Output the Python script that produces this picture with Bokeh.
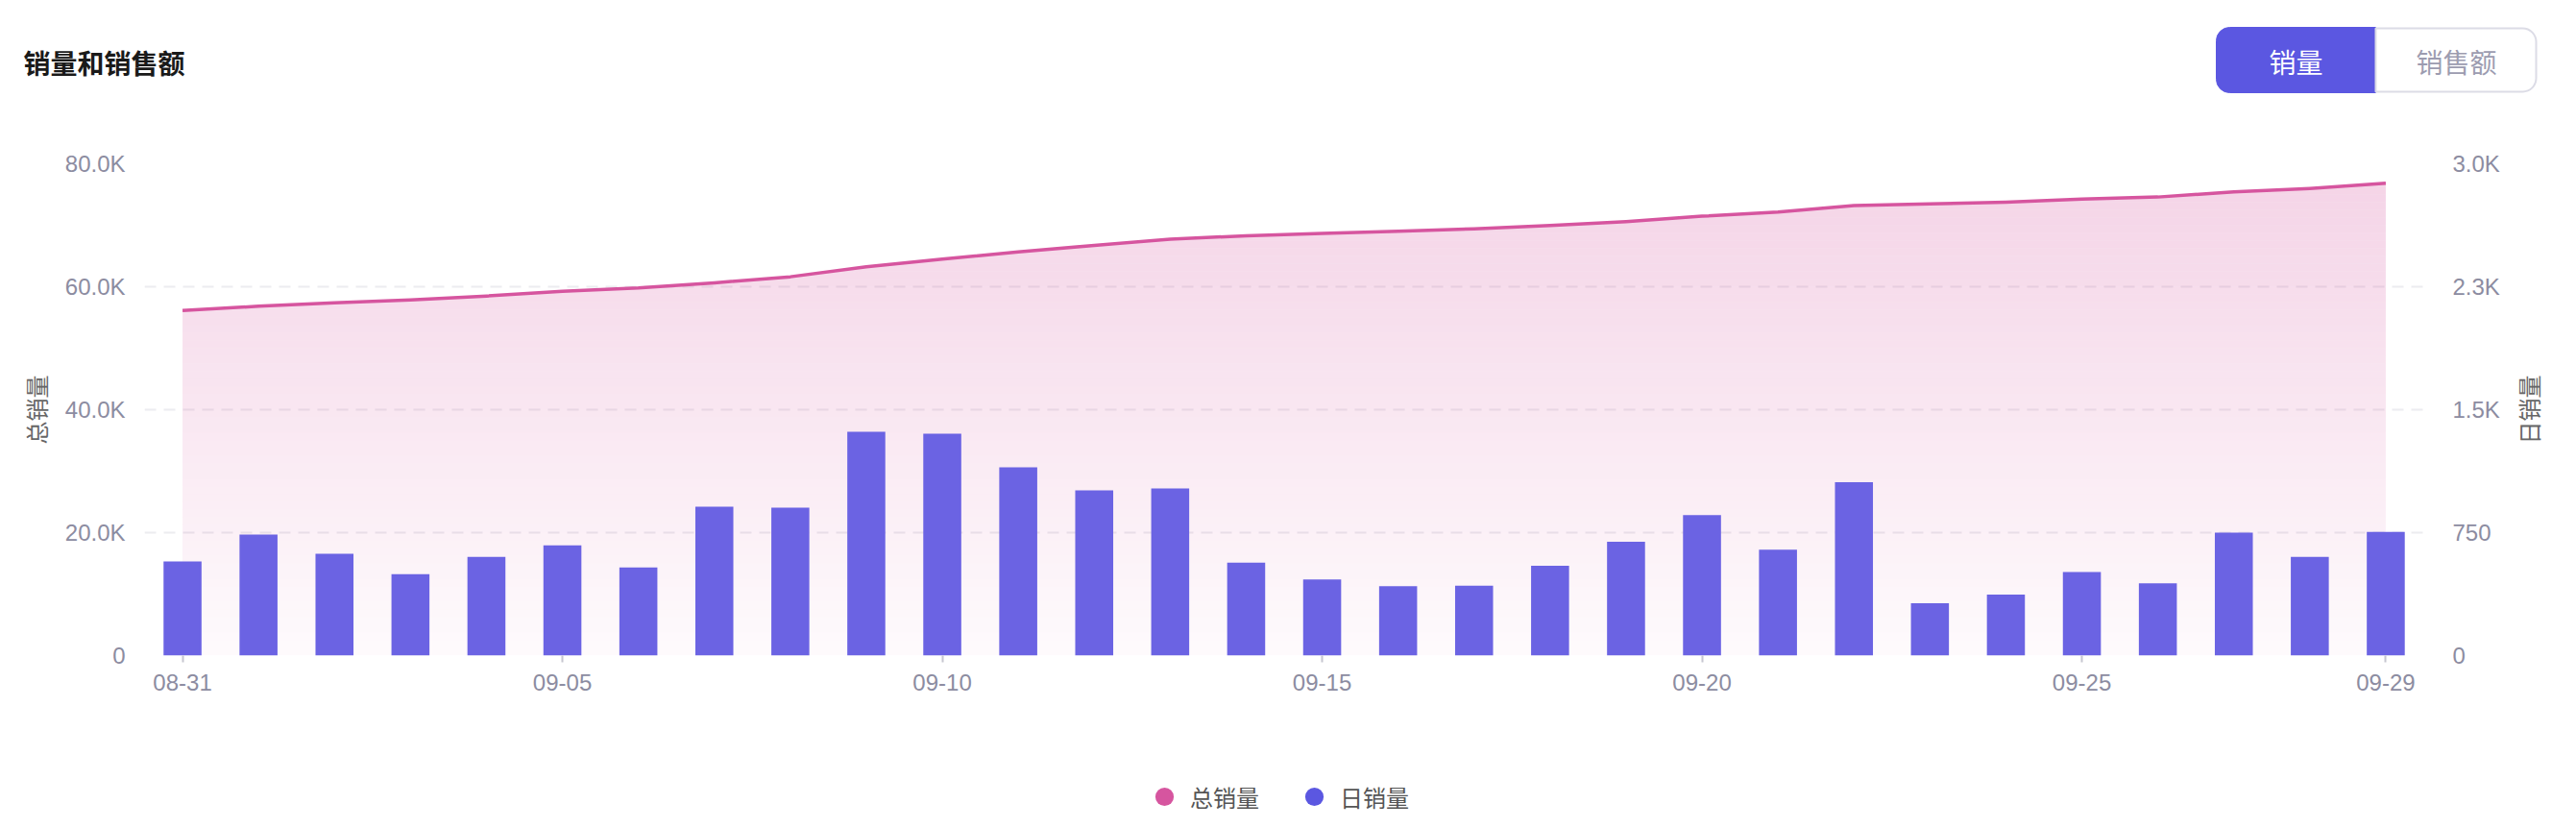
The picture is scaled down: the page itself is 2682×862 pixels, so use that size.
import numpy as np
from bokeh.plotting import figure
from bokeh.layouts import column
from bokeh.models import (Range1d, LinearAxis, FixedTicker, Legend, LegendItem)
from bokeh.core.properties import value
from bokeh.embed import file_html
from bokeh.resources import INLINE

# ---------------- data ----------------
dates = ["08-31", "09-01", "09-02", "09-03", "09-04", "09-05", "09-06", "09-07",
         "09-08", "09-09", "09-10", "09-11", "09-12", "09-13", "09-14", "09-15",
         "09-16", "09-17", "09-18", "09-19", "09-20", "09-21", "09-22", "09-23",
         "09-24", "09-25", "09-26", "09-27", "09-28", "09-29"]
total_sales = [56140, 56830, 57400, 57870, 58490, 59270, 59790, 60630, 61620, 63230,
               64500, 65670, 66730, 67740, 68290, 68680, 69020, 69410, 69970, 70600,
               71470, 72140, 73200, 73480, 73760, 74260, 74590, 75430, 75990, 76820]
daily_sales = [574, 738, 621, 496, 602, 672, 537, 908, 902, 1365,
               1353, 1148, 1008, 1020, 567, 464, 424, 426, 548, 694,
               857, 646, 1058, 320, 372, 510, 441, 750, 602, 755]
x_tick_dates = ["08-31", "09-05", "09-10", "09-15", "09-20", "09-25", "09-29"]
left_ticks = [0, 20000, 40000, 60000, 80000]
left_tick_labels = ["0", "20.0K", "40.0K", "60.0K", "80.0K"]
right_ticks = [0, 750, 1500, 2250, 3000]
right_tick_labels = ["0", "750", "1.5K", "2.3K", "3.0K"]
title_text = "销量和销售额"
button_labels = ["销量", "销售额"]
series_names = ["总销量", "日销量"]

# ---------------- style ----------------
PINK = "#D6559F"
FILL_PINK = "#D5549F"
BLUE = "#6B63E3"
BTN_BLUE = "#5B57E1"
TICK_COLOR = "#8C8CA1"
GRID_COLOR = "#ECECF0"
CJK = "Noto Sans CJK SC"
LAT = "Liberation Sans"
W = 2666
FL, FR = 150, 2523          # frame left / right (page px)
BL, BR = FL, W - FR         # borders

idx = np.arange(len(dates))
total = np.array(total_sales, dtype=float)
daily = np.array(daily_sales, dtype=float)

# ================= header (title + toggle) =================
HH = 118
head = figure(width=W, height=HH, output_backend="svg", toolbar_location=None,
              x_range=Range1d(FL, FR), y_range=Range1d(0, HH),
              x_axis_type=None, y_axis_type=None,
              min_border_left=BL, min_border_right=BR,
              min_border_top=0, min_border_bottom=0)
head.outline_line_color = None
head.grid.visible = False
head.text(x=[192], y=[HH - 64], text=[title_text], text_font=value(CJK),
          text_font_size="28px", text_font_style="bold", text_color="#1A1A1A",
          text_align="right", text_baseline="middle", level="overlay")
btn_left = dict(left=[2307], right=[2473], top=[HH - 28], bottom=[HH - 96],
                fill_color=BTN_BLUE, line_color=BTN_BLUE, line_width=1, level="overlay")
btn_right = dict(left=[2473], right=[2640], top=[HH - 29], bottom=[HH - 95],
                 fill_color="white", line_color="#DCDCE6", line_width=2, level="overlay")
try:
    head.quad(border_radius=(14, 0, 0, 14), **btn_left)
    head.quad(border_radius=(0, 14, 14, 0), **btn_right)
except Exception:
    head.quad(**btn_left)
    head.quad(**btn_right)
head.text(x=[2390], y=[HH - 63], text=[button_labels[0]], text_font=value(CJK),
          text_font_size="28px", text_color="white", text_align="center",
          text_baseline="middle", level="overlay")
head.text(x=[2515], y=[HH - 63], text=[button_labels[1]], text_font=value(CJK),
          text_font_size="28px", text_color="#9C9CB0", text_align="left",
          text_baseline="middle", level="overlay")

# ================= main chart =================
p = figure(width=W, height=652, output_backend="svg", toolbar_location=None,
           x_range=Range1d(-0.5, len(dates) - 0.5),
           y_range=Range1d(left_ticks[0], left_ticks[-1]),
           min_border_left=BL, min_border_right=BR,
           min_border_top=52, min_border_bottom=88)
p.outline_line_color = None
p.background_fill_color = "white"
p.border_fill_color = "white"
p.extra_y_ranges = {"right": Range1d(right_ticks[0], right_ticks[-1])}

# vertical gradient under the total line: stacked non-overlapping bands
ymax = total.max()
step = 1250
for lvl in range(0, int(left_ticks[-1]), step):
    if lvl >= ymax:
        break
    lo = np.minimum(total, lvl)
    hi = np.minimum(total, lvl + step)
    frac = (lvl + step / 2) / ymax
    alpha = 0.025 + 0.225 * frac
    p.varea(x=idx, y1=lo, y2=hi, fill_color=FILL_PINK, fill_alpha=alpha)

# daily bars (right axis)
p.vbar(x=idx, top=daily, width=0.5, y_range_name="right", fill_color=BLUE,
       line_color=None)

# total line
p.line(x=idx, y=total, line_color=PINK, line_width=3.5, line_join="round")

# axes
xa = p.xaxis[0]
xa.ticker = FixedTicker(ticks=[dates.index(d) for d in x_tick_dates])
xa.major_label_overrides = {dates.index(d): d for d in x_tick_dates}
xa.axis_line_color = None
xa.major_tick_line_color = "#C6C6D0"
xa.major_tick_line_width = 2
xa.major_tick_out = 7
xa.major_tick_in = 0
xa.minor_tick_line_color = None
xa.major_label_standoff = 12
xa.major_label_text_font = LAT
xa.major_label_text_font_size = "24px"
xa.major_label_text_color = TICK_COLOR

ya = p.yaxis[0]
ya.ticker = FixedTicker(ticks=left_ticks)
ya.major_label_overrides = dict(zip(left_ticks, left_tick_labels))
ya.axis_line_color = None
ya.major_tick_line_color = None
ya.minor_tick_line_color = None
ya.major_label_standoff = 14
ya.major_label_text_font = LAT
ya.major_label_text_font_size = "24px"
ya.major_label_text_color = TICK_COLOR
ya.axis_label = series_names[0]
ya.axis_label_text_font = CJK
ya.axis_label_text_font_size = "24px"
ya.axis_label_text_font_style = "normal"
ya.axis_label_text_color = "#666666"
ya.axis_label_standoff = 10

ra = LinearAxis(y_range_name="right", ticker=FixedTicker(ticks=right_ticks))
ra.major_label_overrides = dict(zip(right_ticks, right_tick_labels))
ra.axis_line_color = None
ra.major_tick_line_color = None
ra.minor_tick_line_color = None
ra.major_label_standoff = 24
ra.major_label_text_font = LAT
ra.major_label_text_font_size = "24px"
ra.major_label_text_color = TICK_COLOR
p.add_layout(ra, "right")

# right axis title, reading bottom-to-top like the left one
p.text(x=[len(dates) - 0.5], y=[(left_ticks[0] + left_ticks[-1]) / 2],
       text=[series_names[1]], angle=float(np.pi / 2), x_offset=2632 - FR,
       text_font=value(CJK), text_font_size="24px", text_color="#666666",
       text_align="center", text_baseline="middle", level="overlay")

p.xgrid.grid_line_color = None
p.ygrid.grid_line_color = GRID_COLOR
p.ygrid.grid_line_width = 2
p.ygrid.grid_line_dash = "12 8"
p.ygrid.ticker = FixedTicker(ticks=left_ticks)

# ================= footer (legend) =================
FH = 84
foot = figure(width=W, height=FH, output_backend="svg", toolbar_location=None,
              x_range=Range1d(0, 1), y_range=Range1d(0, 1),
              x_axis_type=None, y_axis_type=None,
              min_border_left=BL, min_border_right=BR,
              min_border_top=0, min_border_bottom=0)
foot.outline_line_color = None
foot.grid.visible = False
leg_tot = foot.scatter(x=[np.nan], y=[np.nan], marker="circle", size=19,
                       fill_color=PINK, line_color=None)
leg_day = foot.scatter(x=[np.nan], y=[np.nan], marker="circle", size=19,
                       fill_color=BTN_BLUE, line_color=None)
legend = Legend(items=[LegendItem(label=series_names[0], renderers=[leg_tot]),
                       LegendItem(label=series_names[1], renderers=[leg_day])],
                orientation="horizontal", location=(1188 - FL, 1),
                glyph_width=48, glyph_height=48, label_standoff=3, spacing=33,
                padding=0, margin=0, border_line_color=None, background_fill_alpha=0,
                label_text_font=CJK, label_text_font_size="24px",
                label_text_color="#555555", label_text_baseline="middle")
foot.add_layout(legend, "center")

layout = column(head, p, foot, spacing=0)
open("out.html", "w").write(file_html(layout, INLINE))
